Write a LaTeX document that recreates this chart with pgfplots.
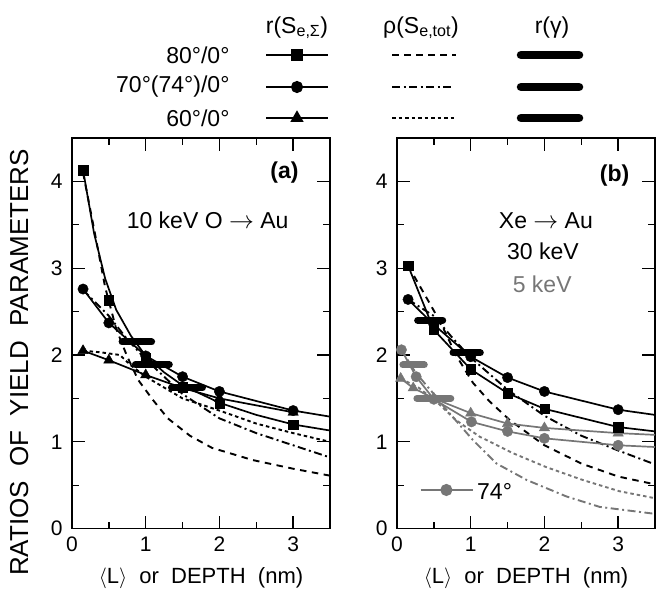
\documentclass[border=0pt]{standalone}
\usepackage{fontspec}
\setmainfont{Liberation Sans}
\usepackage{pgfplots}
\pgfplotsset{compat=1.18}
\definecolor{gr}{RGB}{118,118,118}
\tikzset{
  dashA/.style={dash pattern=on 6.5pt off 5.5pt},
  dashB/.style={dash pattern=on 8pt off 3.5pt on 2pt off 3.5pt},
  dashC/.style={dash pattern=on 3.5pt off 3pt},
}
\newcommand{\bigtxt}{\fontsize{23}{25}\selectfont}
\pgfplotsset{
  panel/.style={
    scale only axis, width=258pt, height=390.6pt,
    xmin=0, xmax=3.5, ymin=0, ymax=4.5,
    xtick={0,1,2,3}, ytick={0,1,2,3,4},
    minor xtick={0.5,1.5,2.5}, minor ytick={0.5,1.5,2.5,3.5},
    tick align=inside, major tick length=13pt, minor tick length=7pt,
    tick style={line width=1.3pt, black},
    axis line style={line width=1.5pt},
    /pgf/number format/assume math mode=true,
    ticklabel style={font=\fontsize{21}{21}\selectfont},
    xticklabel style={yshift=-5pt},
    yticklabel style={xshift=-6pt},
    xlabel={$\langle$L$\rangle$\ \ or\ \ DEPTH\ \ (nm)},
    xlabel style={font=\fontsize{22}{24}\selectfont, at={(axis description cs:0.5,-0.126)}, anchor=center},
    clip=false,
  },
  sol/.style={line width=1.7pt, black, mark options={solid}},
  gsol/.style={line width=1.7pt, gr, mark options={solid, fill=gr, draw=gr}},
  rho/.style={line width=1.9pt, black},
  grho/.style={line width=1.9pt, gr},
  bar/.style={line width=7pt, black, line cap=round},
  gbar/.style={line width=7pt, gr, line cap=round},
  sq/.style={mark=square*, mark size=4.7pt},
  ci/.style={mark=*, mark size=5.2pt},
  tr/.style={mark=triangle*, mark size=6pt},
}
\begin{document}
\begin{tikzpicture}
\path[use as bounding box] (0pt,0pt) rectangle (656pt,-595pt);

% ---------------- legend ----------------
\begin{axis}[at={(0pt,0pt)}, anchor=north west, scale only axis,
  width=656pt, height=130pt, xmin=0, xmax=656, ymin=-130, ymax=0,
  hide axis, clip=false]
\node[anchor=base, font=\bigtxt] at (axis cs:297,-33) {r(S\textsubscript{e,Σ})};
\node[anchor=base, font=\bigtxt] at (axis cs:421,-33) {ρ(S\textsubscript{e,tot})};
\node[anchor=base, font=\bigtxt] at (axis cs:552,-33) {r(γ)};
\node[anchor=east, font=\bigtxt] at (axis cs:233,-55) {80°/0°};
\node[anchor=east, font=\bigtxt] at (axis cs:233,-87) {70°(74°)/0°};
\node[anchor=east, font=\bigtxt] at (axis cs:233,-118) {60°/0°};
\addplot[sol, sq, mark indices={2}] coordinates {(266,-55) (297,-55) (328,-55)};
\addplot[sol, ci, mark indices={2}] coordinates {(266,-87) (297,-87) (328,-87)};
\addplot[sol, tr, mark indices={2}] coordinates {(266,-118) (297,-118) (328,-118)};
\addplot[rho, dashA] coordinates {(392,-55) (456,-55)};
\addplot[rho, dashB] coordinates {(392,-87) (454,-87)};
\addplot[rho, dashC] coordinates {(392,-118) (454,-118)};
\addplot[line width=8.5pt, black, line cap=round] coordinates {(521,-55) (579,-55)};
\addplot[line width=8.5pt, black, line cap=round] coordinates {(521,-87) (579,-87)};
\addplot[line width=8.5pt, black, line cap=round] coordinates {(521,-118) (579,-118)};
\end{axis}

% ---------------- panel (a) ----------------
\begin{axis}[panel, at={(72pt,-528.6pt)}, anchor=south west,
  ylabel={RATIOS\ \ OF\ \ YIELD\ \ PARAMETERS},
  ylabel style={font=\fontsize{26}{28}\selectfont, at={(axis description cs:-0.205,0.425)}, anchor=center}]
% rho curves
\addplot[rho, dashA] coordinates {(0.15,4.1) (0.3,3.45) (0.45,2.78) (0.6,2.3) (0.75,1.98) (0.9,1.71) (1.1,1.48) (1.3,1.27) (1.6,1.07) (1.9,0.93) (2.45,0.79) (3.0,0.69) (3.5,0.61)};
\addplot[rho, dashB] coordinates {(0.15,2.75) (0.5,2.45) (0.75,2.18) (1.0,1.95) (1.5,1.55) (2.0,1.27) (2.5,1.1) (3.0,0.96) (3.5,0.82)};
\addplot[rho, dashC] coordinates {(0.15,2.05) (0.4,2.03) (0.65,2.0) (0.8,1.88) (1.0,1.75) (1.5,1.5) (2.0,1.36) (2.5,1.21) (3.0,1.1) (3.5,1.0)};
% r(S) lines
\addplot[sol] coordinates {(0.15,4.13) (0.3,3.4) (0.45,2.88) (0.6,2.52) (0.8,2.22) (1.0,1.99) (1.25,1.8) (1.5,1.65) (2.0,1.45) (2.5,1.31) (3.0,1.2) (3.5,1.13)};
\addplot[sol] coordinates {(0.15,2.76) (0.5,2.37) (1,1.99) (1.5,1.75) (2,1.58) (3,1.36) (3.5,1.29)};
\addplot[sol] coordinates {(0.15,2.05) (0.5,1.94) (1,1.77) (1.5,1.62) (2,1.5) (3,1.34)};
% r(gamma) bars
\addplot[bar] coordinates {(0.68,2.15) (1.08,2.15)};
\addplot[bar] coordinates {(0.86,1.89) (1.32,1.89)};
\addplot[bar] coordinates {(1.35,1.62) (1.77,1.62)};
% markers
\addplot[only marks, black, sq] coordinates {(0.15,4.13) (0.5,2.63) (1,1.97) (1.5,1.63) (2,1.44) (3,1.2)};
\addplot[only marks, black, ci] coordinates {(0.15,2.76) (0.5,2.37) (1,1.99) (1.5,1.75) (2,1.58) (3,1.36)};
\addplot[only marks, black, tr] coordinates {(0.15,2.05) (0.5,1.94) (1,1.77) (1.5,1.62) (2,1.5) (3,1.34)};
\node[anchor=east, font=\bfseries\bigtxt] at (axis cs:3.12,4.1) {(a)};
\node[font=\bigtxt] at (axis cs:1.84,3.55) {10 keV O $\rightarrow$ Au};
\end{axis}

% ---------------- panel (b) ----------------
\begin{axis}[panel, at={(397pt,-528.6pt)}, anchor=south west]
% rho curves black
\addplot[rho, dashA] coordinates {(0.15,3.03) (0.4,2.66) (0.6,2.36) (0.8,2.0) (1.03,1.68) (1.25,1.47) (1.53,1.25) (2.0,0.96) (2.5,0.75) (3.0,0.6) (3.5,0.51)};
\addplot[rho, dashB] coordinates {(0.15,2.64) (0.5,2.45) (0.75,2.2) (1.0,1.97) (1.5,1.6) (2.0,1.3) (2.5,1.07) (3.0,0.9) (3.5,0.74)};
% rho curves gray
\addplot[grho, dashC] coordinates {(0.05,1.73) (0.3,1.62) (0.55,1.45) (0.8,1.25) (1.12,1.06) (1.57,0.87) (2.02,0.71) (2.52,0.56) (3.02,0.43) (3.5,0.35)};
\addplot[grho, dashB] coordinates {(0.06,2.06) (0.25,1.8) (0.5,1.55) (0.67,1.37) (1.03,1.02) (1.35,0.75) (1.76,0.56) (2.3,0.37) (2.75,0.25) (3.5,0.17)};
% r(S) lines gray
\addplot[gsol] coordinates {(0.05,1.73) (0.22,1.62) (0.5,1.5) (1,1.33) (1.5,1.21) (2,1.16) (3,1.1) (3.5,1.08)};
\addplot[gsol] coordinates {(0.06,2.06) (0.26,1.75) (0.5,1.49) (1.01,1.23) (1.5,1.12) (2,1.04) (3,0.96) (3.5,0.94)};
% r(S) lines black
\addplot[sol] coordinates {(0.15,3.03) (0.5,2.29) (1,1.835) (1.5,1.56) (2,1.38) (3,1.17) (3.5,1.12)};
\addplot[sol] coordinates {(0.15,2.64) (0.5,2.35) (1,1.98) (1.5,1.74) (2,1.58) (3,1.37) (3.5,1.31)};
% bars
\addplot[gbar] coordinates {(0.08,1.885) (0.37,1.885)};
\addplot[gbar] coordinates {(0.27,1.5) (0.73,1.5)};
\addplot[bar] coordinates {(0.28,2.40) (0.62,2.40)};
\addplot[bar] coordinates {(0.76,2.025) (1.13,2.025)};
% markers
\addplot[only marks, gr, tr, mark options={fill=gr, draw=gr}] coordinates {(0.05,1.73) (0.22,1.62) (0.5,1.5) (1,1.33) (1.5,1.21) (2,1.16) (3,1.1)};
\addplot[only marks, gr, ci, mark options={fill=gr, draw=gr}] coordinates {(0.06,2.06) (0.26,1.75) (0.5,1.49) (1.01,1.23) (1.5,1.12) (2,1.04) (3,0.96)};
\addplot[only marks, black, sq] coordinates {(0.15,3.03) (0.5,2.29) (1,1.835) (1.5,1.56) (2,1.38) (3,1.17)};
\addplot[only marks, black, ci] coordinates {(0.15,2.64) (0.5,2.35) (1,1.98) (1.5,1.74) (2,1.58) (3,1.37)};
% inner legend
\addplot[gsol, ci, mark indices={2}] coordinates {(0.32,0.445) (0.67,0.445) (1.03,0.445)};
\node[anchor=west, font=\bigtxt] at (axis cs:1.04,0.43) {74°};
\node[anchor=east, font=\bfseries\bigtxt] at (axis cs:3.2,4.07) {(b)};
\node[font=\bigtxt] at (axis cs:2.02,3.55) {Xe $\rightarrow$ Au};
\node[font=\bigtxt] at (axis cs:1.98,3.19) {30 keV};
\node[font=\bigtxt, text=gr] at (axis cs:1.97,2.81) {5 keV};
\end{axis}
\end{tikzpicture}
\end{document}
